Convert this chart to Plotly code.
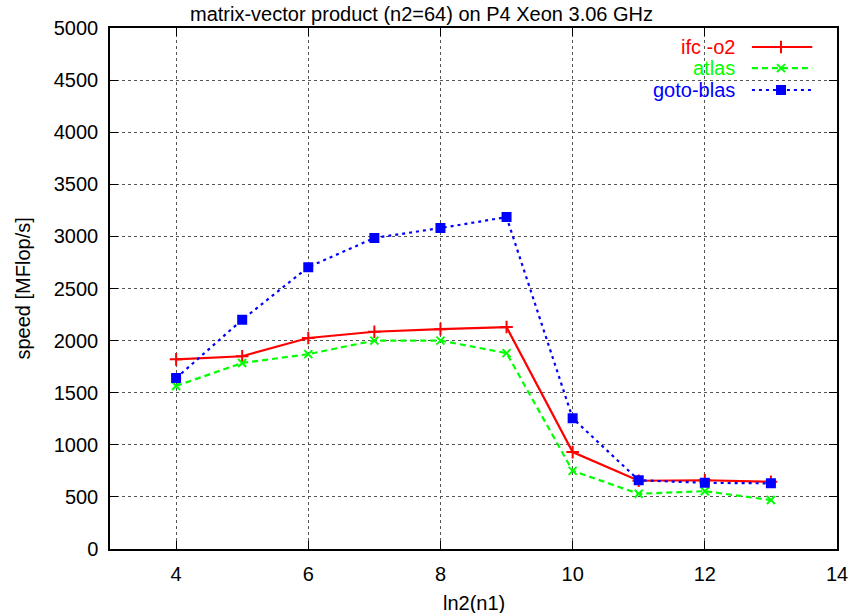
import plotly.graph_objects as go

x_vals = [4, 5, 6, 7, 8, 9, 10, 11, 12, 13]
ifc_o2 = [1820, 1850, 2025, 2085, 2110, 2130, 930, 655, 660, 645]
atlas = [1565, 1785, 1870, 2000, 2000, 1880, 750, 530, 555, 470]
goto_blas = [1640, 2200, 2705, 2985, 3080, 3185, 1255, 660, 635, 630]

series_names = ["ifc -o2", "atlas", "goto-blas"]
series_data = [ifc_o2, atlas, goto_blas]
colors = ["#ff0000", "#00ff00", "#0000ff"]
dashes = ["solid", "6px,4px", "3px,4px"]
symbols = ["cross-thin", "x-thin", "square"]
msizes = [9, 8, 8]

x_ticks = [4, 6, 8, 10, 12, 14]
y_ticks = [0, 500, 1000, 1500, 2000, 2500, 3000, 3500, 4000, 4500, 5000]

FONT = "Liberation Sans, Arial, Helvetica, sans-serif"
FS = 20

fig = go.Figure()
for name, ys, c, d, s, ms in zip(series_names, series_data, colors, dashes, symbols, msizes):
    fig.add_trace(go.Scatter(
        x=x_vals, y=ys, mode="lines+markers", name=name,
        line=dict(color=c, width=2.2, dash=d),
        marker=dict(symbol=s, size=ms, color=c, line=dict(color=c, width=2)),
        showlegend=False,
    ))

# custom legend (gnuplot-style: text right-aligned, sample to the right)
leg_y = [0.9635, 0.923, 0.881]
leg_x0, leg_x1, leg_xm, leg_tx = 0.883, 0.966, 0.923, 0.8625
for name, c, d, s, ms, ly in zip(series_names, colors, dashes, symbols, msizes, leg_y):
    fig.add_trace(go.Scatter(
        x=[leg_x0, leg_x1], y=[ly, ly], mode="lines", xaxis="x2", yaxis="y2",
        line=dict(color=c, width=2.2, dash=d), showlegend=False, hoverinfo="skip",
    ))
    fig.add_trace(go.Scatter(
        x=[leg_xm], y=[ly], mode="markers", xaxis="x2", yaxis="y2",
        marker=dict(symbol=s, size=ms, color=c, line=dict(color=c, width=2)),
        showlegend=False, hoverinfo="skip",
    ))
    fig.add_annotation(
        x=leg_tx, y=ly, xref="paper", yref="paper", text=name, showarrow=False,
        xanchor="right", yanchor="middle", font=dict(family=FONT, size=FS, color=c),
    )

fig.add_shape(type="rect", xref="paper", yref="paper", x0=0.703, x1=0.99, y0=0.86, y1=0.995,
              fillcolor="white", line=dict(width=0), layer="between")

axis_common = dict(
    showline=True, linecolor="black", linewidth=1.5, mirror="ticks",
    ticks="inside", ticklen=8, tickcolor="black", tickwidth=1,
    showgrid=True, gridcolor="#555555", griddash="dot", gridwidth=1,
    zeroline=False, automargin=False,
    tickfont=dict(family=FONT, size=FS, color="black"),
)

fig.update_layout(
    width=851, height=613, autosize=False,
    margin=dict(l=110, r=14, t=28, b=64),
    plot_bgcolor="white", paper_bgcolor="white",
    font=dict(family=FONT, size=FS, color="black"),
    xaxis=dict(range=[3, 14], tickvals=x_ticks, ticklabelstandoff=6, **axis_common),
    yaxis=dict(range=[0, 5000], tickvals=y_ticks, ticklabelstandoff=6, **axis_common),
    xaxis2=dict(overlaying="x", range=[0, 1], visible=False, automargin=False),
    yaxis2=dict(overlaying="y", range=[0, 1], visible=False, automargin=False),
    annotations=list(fig.layout.annotations) + [
        dict(text="matrix-vector product (n2=64) on P4 Xeon 3.06 GHz", x=0.4285, y=1.0,
             xref="paper", yref="paper", xanchor="center", yanchor="bottom",
             yshift=1, showarrow=False, font=dict(family=FONT, size=FS)),
        dict(text="ln2(n1)", x=0.5, y=0, xref="paper", yref="paper",
             xanchor="center", yanchor="middle", yshift=-54, showarrow=False,
             font=dict(family=FONT, size=FS)),
        dict(text="speed [MFlop/s]", x=0, y=0.5, xref="paper", yref="paper",
             xanchor="center", yanchor="middle", xshift=-88, textangle=-90,
             showarrow=False, font=dict(family=FONT, size=FS)),
    ],
)

fig.write_html(
    "out.html",
    config={"responsive": False, "displayModeBar": False},
    post_script="document.body.style.margin='0';document.body.style.padding='0';"
                "document.body.style.overflow='hidden';document.documentElement.style.overflow='hidden';",
)
